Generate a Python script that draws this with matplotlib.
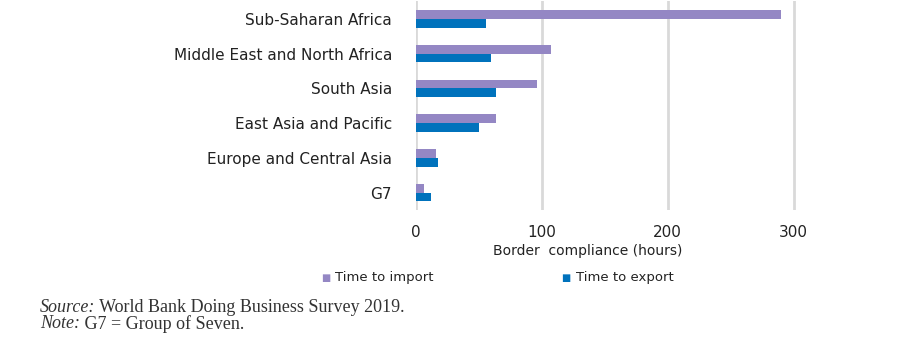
import matplotlib.pyplot as plt
import numpy as np

regions = ["Sub-Saharan Africa", "Middle East and North Africa", "South Asia",
           "East Asia and Pacific", "Europe and Central Asia", "G7"]
time_to_import = [290, 107, 96, 64, 16, 6.5]
time_to_export = [56, 60, 64, 50, 18, 12]
xticks = [0, 100, 200, 300]

purple = "#9487c4"
blue = "#0072bc"
txt = "#222222"

W, H = 911, 351
fig = plt.figure(figsize=(W / 100, H / 100), dpi=100)
ax = fig.add_axes([0.4563, 0.4017, 0.4288, 0.596])

y = np.arange(len(regions))
h = 0.25
ax.barh(y - h / 2, time_to_import, height=h, color=purple, zorder=3)
ax.barh(y + h / 2, time_to_export, height=h, color=blue, zorder=3)

ax.set_xlim(0, 310)
ax.set_ylim(5.5, -0.52)
ax.set_xticks(xticks)
ax.set_xticklabels([str(t) for t in xticks], fontsize=11, family="DejaVu Sans", color=txt)
ax.set_yticks(y)
ax.set_yticklabels(regions, fontsize=11, family="DejaVu Sans", color=txt)
ax.tick_params(axis="y", length=0, pad=17)
ax.tick_params(axis="x", length=0, pad=11)
ax.grid(axis="x", color="#d9d9d9", linewidth=2, zorder=0)
for s in ax.spines.values():
    s.set_visible(False)

fig.text(588 / W, 1 - 251 / H, "Border  compliance (hours)", ha="center", va="center",
         fontsize=10, family="DejaVu Sans", color=txt)

# legend
fig.text(326 / W, 1 - 278 / H, "\u25a0", ha="center", va="center", fontsize=7, color=purple)
fig.text(335 / W, 1 - 278 / H, "Time to import", ha="left", va="center",
         fontsize=9.5, family="DejaVu Sans", color=txt)
fig.text(566 / W, 1 - 278 / H, "\u25a0", ha="center", va="center", fontsize=7, color=blue)
fig.text(576 / W, 1 - 278 / H, "Time to export", ha="left", va="center",
         fontsize=9.5, family="DejaVu Sans", color=txt)

# source / note
fig.canvas.draw()
r = fig.canvas.get_renderer()
for yy, lab, rest in [(308, "Source:", " World Bank Doing Business Survey 2019."),
                      (324, "Note:", " G7 = Group of Seven.")]:
    t1 = fig.text(40 / W, 1 - yy / H, lab, ha="left", va="center", fontsize=13,
                  family="Liberation Serif", style="italic", color="#333333")
    x1 = t1.get_window_extent(r).x1
    fig.text(x1 / W, 1 - yy / H, rest, ha="left", va="center",
             fontsize=13, family="Liberation Serif", color="#333333")

fig.savefig("out.png", dpi=100)
